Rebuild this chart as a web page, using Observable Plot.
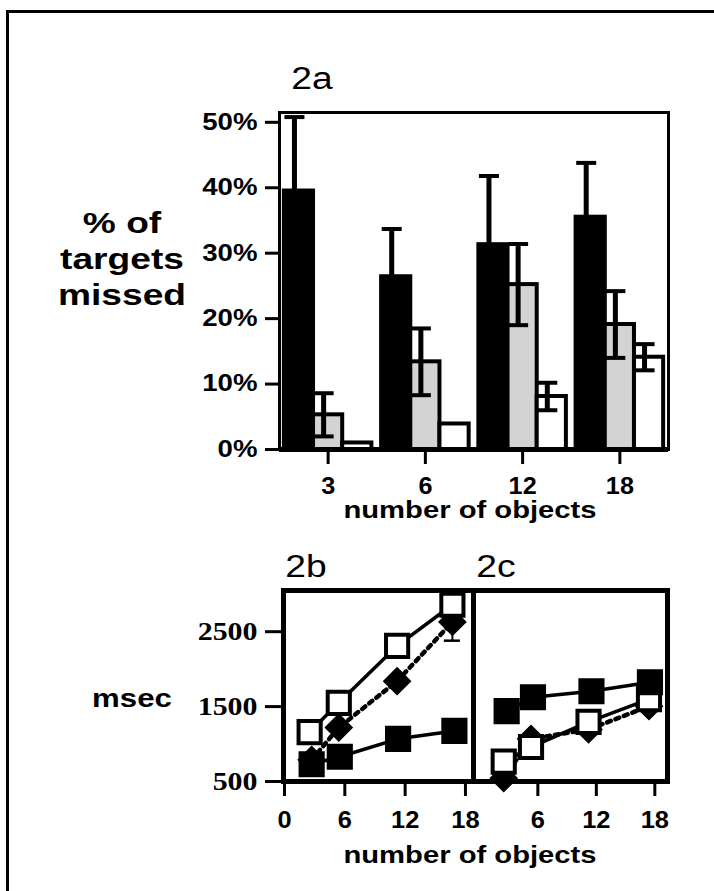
<!DOCTYPE html>
<html>
<head>
<meta charset="utf-8">
<script src="https://cdn.jsdelivr.net/npm/d3@7"></script>
<script src="https://cdn.jsdelivr.net/npm/@observablehq/plot@0.6"></script>
<style>
html, body { margin: 0; padding: 0; background: #fff; }
#root { position: relative; width: 714px; height: 891px; overflow: hidden; background: #fff; color: #000;
  font-family: "Liberation Sans", Arial, sans-serif; }
#border { position: absolute; left: 6px; top: 10px; width: 1000px; height: 1000px; border: 3px solid #000; }
.panel { position: absolute; }
.panel svg { overflow: visible; background: transparent; }
.panel text { fill: #000; }
.panel g[aria-label*="axis"] line, .panel g[aria-label*="axis"] path { stroke: #000; stroke-width: 3px; }
.lbl { position: absolute; white-space: nowrap; line-height: 0.7; color: #000; text-align: center;
  transform-origin: center; }
</style>
</head>
<body>
<div id="root"><div id="border"></div></div>
<script>
// ---------- data: figure 2a (% of targets missed) ----------
const groups = ["3", "6", "12", "18"];
const seriesA = ["black", "grey", "white"];
const missBlack = [39.5, 26.4, 31.3, 35.5];
const missGrey  = [5.3, 13.4, 25.2, 19.1];
const missWhite = [1.0, 3.9, 8.1, 14.1];
const errBlack  = [11.3, 7.3, 10.5, 8.3];
const errGrey   = [3.3, 5.1, 6.2, 5.1];
const errWhite  = [0, 0, 2.1, 2.0];
const yTicksA = [0, 10, 20, 30, 40, 50];

// ---------- data: figure 2b (msec) ----------
const bOpenX  = [2.5, 5.4, 11.2, 16.7];
const bOpenY  = [1160, 1550, 2310, 2860];
const bDiamX  = [2.7, 5.4, 11.2, 16.7];
const bDiamY  = [790, 1220, 1840, 2630];
const bDiamErr = [0, 0, 0, 250];
const bBlackX = [2.7, 5.5, 11.3, 16.9];
const bBlackY = [730, 830, 1070, 1175];

// ---------- data: figure 2c (msec) ----------
const cBlackX = [2.8, 5.5, 11.5, 17.5];
const cBlackY = [1440, 1625, 1705, 1825];
const cOpenX  = [2.5, 5.3, 11.2, 17.4];
const cOpenY  = [765, 960, 1295, 1600];
const cDiamX  = [2.5, 5.3, 11.2, 17.4];
const cDiamY  = [545, 1070, 1195, 1505];

const msecTicks = [500, 1500, 2500];
const objTicksB = [0, 6, 12, 18];
const objTicksC = [6, 12, 18];

// ---------- styles ----------
const fillA = {black: "#000", grey: "#d3d3d3", white: "#fff"};
const SANS = '"Liberation Sans", Arial, sans-serif';
const SERIF = '"Liberation Serif", "Times New Roman", serif';
const root = document.getElementById("root");

function place(el, cls, left, top) {
  const d = document.createElement("div");
  d.className = "panel " + cls;
  d.style.left = left + "px";
  d.style.top = top + "px";
  d.appendChild(el);
  root.appendChild(d);
  return d;
}
// set tick-label type, then widen it horizontally (the original type is set wide)
function styleTicks(scope, sel, size, family, k) {
  scope.querySelectorAll(sel).forEach(t => {
    t.style.setProperty("font-size", size + "px", "important");
    t.style.setProperty("font-family", family, "important");
    t.style.setProperty("font-weight", "bold", "important");
    t.style.setProperty("fill", "#000");
    const parts = t.querySelectorAll("tspan");
    (parts.length ? [...parts] : [t]).forEach(el => {
      const L = el.getComputedTextLength();
      if (L > 0) { el.setAttribute("textLength", (L * k).toFixed(2)); el.setAttribute("lengthAdjust", "spacingAndGlyphs"); }
    });
  });
}
function label(html, cx, baseline, size, weight, k, lh) {
  const d = document.createElement("div");
  d.className = "lbl";
  d.innerHTML = html;
  d.style.left = cx + "px";
  d.style.fontSize = size + "px";
  d.style.fontWeight = weight;
  let top;
  if (lh) { d.style.lineHeight = lh + "px"; top = baseline - ((lh - 1.117 * size) / 2 + 0.905 * size); }
  else { top = baseline - 0.6965 * size; }
  d.style.top = top + "px";
  d.style.transform = `translateX(-50%) scaleX(${k})`;
  root.appendChild(d);
}

// ---------- 2a ----------
const WA = 714, HA = 530, MLA = 279, MRA = 46, MTA = 112, MBA = 81;
const PIN = 0.1, POUT = 0.05;
const stepA = (WA - MLA - MRA) / (groups.length - PIN + 2 * POUT);
const bwA = stepA * (1 - PIN);
const sub = bwA / 3;
const valsA = [missBlack, missGrey, missWhite];
const errsA = [errBlack, errGrey, errWhite];
const marksA = [];
seriesA.forEach((s, i) => {
  const rows = groups.map((g, j) => ({g, v: valsA[i][j], e: errsA[i][j]}));
  marksA.push(Plot.barY(rows, {x: "g", y: "v", fill: fillA[s], stroke: "#000", strokeWidth: i === 0 ? 4 : 4,
    insetLeft: i * sub, insetRight: (2 - i) * sub}));
});
seriesA.forEach((s, i) => {
  const rows = groups.map((g, j) => ({g, v: valsA[i][j], e: errsA[i][j]})).filter(d => d.e > 0);
  const c = (i + 0.5) * sub - 4;
  marksA.push(Plot.barY(rows, {x: "g", y1: d => d.v - d.e, y2: d => d.v + d.e, fill: "#000",
    insetLeft: c - 2.5, insetRight: bwA - c - 2.5}));
  marksA.push(Plot.tickY(rows, {x: "g", y: d => d.v + d.e, stroke: "#000", strokeWidth: 4,
    insetLeft: c - 10, insetRight: bwA - c - 10}));
  marksA.push(Plot.tickY(rows, {x: "g", y: d => d.v - d.e, stroke: "#000", strokeWidth: 4,
    insetLeft: c - 10, insetRight: bwA - c - 10}));
});
marksA.push(Plot.ruleY([0], {stroke: "#000", strokeWidth: 5}));
marksA.push(Plot.frame({stroke: "#000", strokeWidth: 3}));

const plotA = Plot.plot({
  width: WA, height: HA, marginLeft: MLA, marginRight: MRA, marginTop: MTA, marginBottom: MBA,
  style: {background: "transparent", overflow: "visible"},
  x: {type: "band", domain: groups, paddingInner: PIN, paddingOuter: POUT, align: 0.5, round: false,
      tickSize: 15, tickPadding: 12, label: null},
  y: {domain: [0, 51.5], ticks: yTicksA, tickFormat: d => d + "%", tickSize: 14, tickPadding: 8, label: null},
  marks: marksA
});
const pa = place(plotA, "pa", 0, 0);

// ---------- 2b / 2c ----------
const toRows = (X, Y, E) => X.map((x, i) => ({x, y: Y[i], e: E ? E[i] : 0}));
function lineMarks(rows, kind) {
  const m = [];
  if (kind === "diamond") {
    m.push(Plot.line(rows, {x: "x", y: "y", stroke: "#000", strokeWidth: 4.5, strokeDasharray: "4,5"}));
    const er = rows.filter(d => d.e > 0);
    m.push(Plot.ruleX(er, {x: "x", y1: d => d.y - d.e, y2: d => d.y + d.e, stroke: "#000", strokeWidth: 2}));
    m.push(Plot.ruleY(er, {y: d => d.y - d.e, x1: d => d.x - 0.8, x2: d => d.x + 0.8, stroke: "#000", strokeWidth: 2.5}));
    m.push(Plot.dot(rows, {x: "x", y: "y", symbol: "diamond2", r: 12, fill: "#000", stroke: "#000", strokeWidth: 1.5}));
  } else {
    m.push(Plot.line(rows, {x: "x", y: "y", stroke: "#000", strokeWidth: 3.5}));
    m.push(Plot.dot(rows, {x: "x", y: "y", symbol: "square", r: 12.5,
      fill: kind === "open" ? "#fff" : "#000", stroke: "#000", strokeWidth: 4}));
  }
  return m;
}
const MT = 50, MB = 60, H2 = 301, TOP2 = 540;
const yMs = {domain: [500, 3050], ticks: msecTicks, tickFormat: d => String(d), tickSize: 18, tickPadding: 8, label: null};

const plotB = Plot.plot({
  width: 483, height: H2, marginLeft: 283, marginRight: 10, marginTop: MT, marginBottom: MB,
  style: {background: "transparent", overflow: "visible"},
  x: {domain: [-0.1, 18.8], ticks: objTicksB, tickFormat: d => String(d), tickSize: 15, tickPadding: 14, label: null},
  y: yMs,
  marks: [
    ...lineMarks(toRows(bDiamX, bDiamY, bDiamErr), "diamond"),
    ...lineMarks(toRows(bBlackX, bBlackY), "black"),
    ...lineMarks(toRows(bOpenX, bOpenY), "open"),
    Plot.frame({stroke: "#000", strokeWidth: 5})
  ]
});
const pb = place(plotB, "pb", 0, TOP2);

const plotC = Plot.plot({
  width: 224, height: H2, marginLeft: 10, marginRight: 20, marginTop: MT, marginBottom: MB,
  style: {background: "transparent", overflow: "visible"},
  x: {domain: [-0.6, 19.3], ticks: objTicksC, tickFormat: d => String(d), tickSize: 15, tickPadding: 14, label: null},
  y: {...yMs, axis: null},
  marks: [
    ...lineMarks(toRows(cDiamX, cDiamY), "diamond"),
    ...lineMarks(toRows(cOpenX, cOpenY), "open"),
    ...lineMarks(toRows(cBlackX, cBlackY), "black"),
    Plot.frame({stroke: "#000", strokeWidth: 5})
  ]
});
const pc = place(plotC, "pc", 463, TOP2);

styleTicks(pa, 'g[aria-label^="y-axis"] text', 23, SANS, 1.2);
styleTicks(pa, 'g[aria-label^="x-axis"] text', 24, SANS, 1.05);
styleTicks(pb, 'g[aria-label^="y-axis"] text', 26, SERIF, 1.15);
styleTicks(pb, 'g[aria-label^="x-axis"] text', 24, SANS, 1.06);
styleTicks(pc, 'g[aria-label^="x-axis"] text', 24, SANS, 1.06);

// ---------- titles and axis titles ----------
label("2a", 312, 90, 31, "normal", 1.2);
label("% of<br>targets<br>missed", 122, 233, 29, "bold", 1.28, 36);
label("number of objects", 470, 518, 23, "bold", 1.27);
label("2b", 306, 578, 31, "normal", 1.2);
label("2c", 496, 578, 31, "normal", 1.2);
label("msec", 132, 707, 26, "bold", 1.2);
label("number of objects", 470, 863, 23, "bold", 1.27);
</script>
</body>
</html>
